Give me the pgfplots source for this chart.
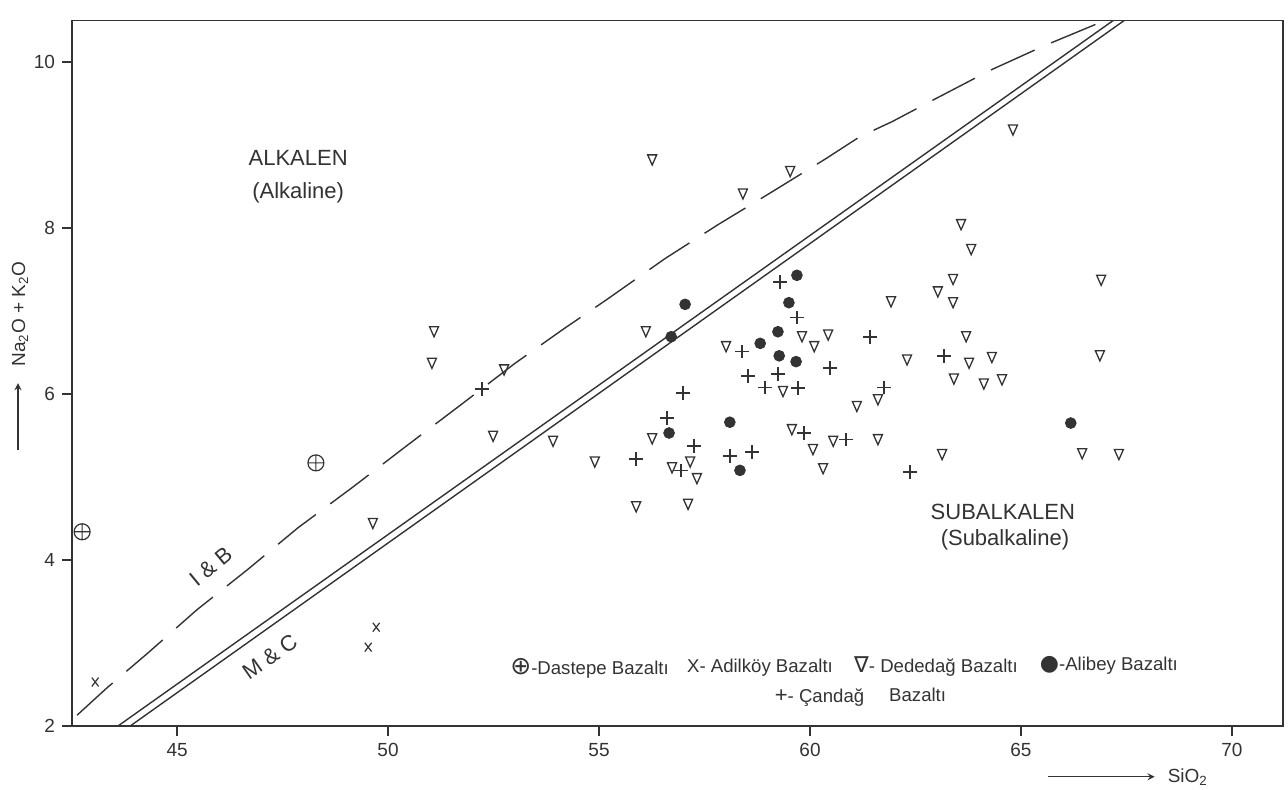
\documentclass[border=0pt]{standalone}
\usepackage{fontspec}
\setmainfont{Liberation Sans}
\newfontfamily\symfont{DejaVu Sans}
\usepackage{pgfplots}
\pgfplotsset{compat=1.18}
\definecolor{ink}{HTML}{333333}

\begin{document}
\begin{tikzpicture}
\begin{axis}[name=a, scale only axis, width=605.5pt, height=352.75pt,
  xmin=42.51, xmax=71.21, ymin=2, ymax=10.5,
  xtick={45,50,55,60,65,70}, ytick={2,4,6,8,10},
  tick align=outside, xtick pos=left, ytick pos=left,
  major tick length=5pt,
  axis line style={ink, line width=0.9pt},
  every tick/.style={ink, line width=0.9pt},
  tick label style={font=\fontsize{9.5}{10}\selectfont, text=ink},
  /pgf/number format/assume math mode=true,
  clip mode=individual,
]
% Irvine & Baragar boundary (dashed)
\addplot[ink, line width=0.7pt, dash pattern=on 24pt off 9pt] coordinates {
(42.63,2.13) (43.34,2.46) (44.31,2.88) (45.47,3.40) (46.66,3.88) (47.87,4.39)
(49.17,4.88) (50.40,5.36) (51.70,5.86) (53.01,6.37) (54.15,6.78) (55.19,7.14)
(56.56,7.63) (57.82,8.04) (59.05,8.42) (60.36,8.83) (61.18,9.10) (61.94,9.28)
(62.91,9.54) (64.27,9.90) (65.57,10.20) (67.04,10.51)};
% MacDonald & Katsura boundary (double line)
\addplot[ink, line width=0.7pt] coordinates {(43.60,2) (67.63,10.66)};
\addplot[ink, line width=0.7pt] coordinates {(43.89,2) (67.89,10.66)};
% Dastepe
\addplot[only marks, mark=oplus, mark size=4pt, ink, line width=0.6pt] coordinates {
(42.75,4.34) (48.29,5.17)};
% Adilkoy
\addplot[only marks, mark=x, mark size=2.4pt, ink, line width=0.6pt, mark options={yscale=1.3}] coordinates {
(43.06,2.53) (49.53,2.95) (49.72,3.19)};
% Dededag
\addplot[only marks, mark=triangle, mark size=2.6pt, ink, line width=0.65pt, mark options={rotate=180, yscale=1.3}] coordinates {
(51.09,6.77) (51.04,6.39) (52.75,6.31) (52.49,5.51) (53.91,5.45) (54.90,5.20)
(49.64,4.46) (55.88,4.66) (56.26,5.48) (56.73,5.13) (57.16,5.20) (57.32,5.00)
(57.11,4.69) (59.57,5.59) (60.07,5.35) (60.31,5.12) (60.55,5.45) (59.36,6.05)
(56.11,6.77) (58.01,6.59) (56.26,8.84) (58.41,8.43) (59.53,8.70) (59.81,6.71)
(60.10,6.59) (60.43,6.73) (61.92,7.13) (62.30,6.43) (63.03,7.25) (63.39,7.40)
(63.39,7.12) (63.70,6.71) (63.77,6.39) (63.41,6.20) (63.58,8.06) (63.82,7.76)
(64.31,6.46) (64.12,6.14) (64.55,6.19) (66.90,7.39) (66.87,6.48) (66.45,5.30)
(67.32,5.29) (64.81,9.20) (61.11,5.87) (61.61,5.95) (61.61,5.47) (63.13,5.29)};
% Candag
\addplot[only marks, mark=+, mark size=3.4pt, ink, line width=0.8pt] coordinates {
(59.29,7.35) (59.69,6.92) (58.39,6.51) (58.53,6.22) (59.24,6.24) (58.93,6.08)
(59.72,6.07) (56.99,6.01) (61.42,6.69) (60.47,6.31) (63.18,6.46) (61.75,6.08)
(56.61,5.71) (57.25,5.37) (55.88,5.22) (56.94,5.08) (58.10,5.25) (58.63,5.30)
(59.86,5.53) (60.85,5.45) (62.37,5.06) (52.23,6.06)};
% Alibey
\addplot[only marks, mark=*, mark size=2.7pt, ink, mark options={fill=ink, draw=ink}] coordinates {
(57.04,7.08) (56.71,6.69) (59.69,7.43) (59.50,7.10) (59.24,6.75) (58.82,6.61)
(59.27,6.46) (59.67,6.39) (56.66,5.53) (58.10,5.66) (58.34,5.08) (66.18,5.65)};

% region labels
\node[font=\fontsize{11}{12}\selectfont, text=ink] at (axis cs:47.87,8.84) {ALKALEN};
\node[font=\fontsize{11}{12}\selectfont, text=ink] at (axis cs:47.87,8.42) {(Alkaline)};
\node[font=\fontsize{11}{12}\selectfont, text=ink] at (axis cs:64.57,4.58) {SUBALKALEN};
\node[font=\fontsize{11}{12}\selectfont, text=ink] at (axis cs:64.62,4.24) {(Subalkaline)};
\node[font=\fontsize{11}{12}\selectfont, text=ink, rotate=39.5, inner sep=0pt] at (axis cs:45.80,3.92) {I \& B};
\node[font=\fontsize{11}{12}\selectfont, text=ink, rotate=35, inner sep=0pt] at (axis cs:47.20,2.83) {M \& C};

% legend
\node[font=\fontsize{9.3}{11}\selectfont, text=ink, anchor=west] at (axis cs:52.73,2.69) {{\symfont\fontsize{12.5}{12}\selectfont ⊕}-Dastepe Bazaltı};
\node[font=\fontsize{9.3}{11}\selectfont, text=ink, anchor=west] at (axis cs:56.92,2.70) {X- Adilköy Bazaltı};
\node[font=\fontsize{9.3}{11}\selectfont, text=ink, anchor=west] at (axis cs:60.88,2.72) {{\symfont\fontsize{11}{12}\selectfont ∇}- Dededağ Bazaltı};
\node[font=\fontsize{9.3}{11}\selectfont, text=ink, anchor=west] at (axis cs:65.28,2.73) {{\symfont\fontsize{11}{12}\selectfont ●}-Alibey Bazaltı};
\node[font=\fontsize{9.3}{11}\selectfont, text=ink, anchor=west] at (axis cs:59.00,2.34) {{\fontsize{11}{12}\selectfont +}- Çandağ};
\node[font=\fontsize{9.3}{11}\selectfont, text=ink, anchor=west] at (axis cs:61.71,2.37) {Bazaltı};

% axis titles with arrows
\node[font=\fontsize{9.5}{11}\selectfont, text=ink, rotate=90] at (axis description cs:-0.043,0.584) {Na\textsubscript{2}O + K\textsubscript{2}O};
\draw[ink, line width=0.6pt, -stealth] (axis description cs:-0.0446,0.391) -- (axis description cs:-0.0446,0.486);
\node[font=\fontsize{9.5}{11}\selectfont, text=ink, anchor=west] at (axis description cs:0.899,-0.072) {SiO\textsubscript{2}};
\draw[ink, line width=0.6pt, -stealth] (axis description cs:0.806,-0.072) -- (axis description cs:0.894,-0.072);
\end{axis}
\pgfresetboundingbox
\path ([shift={(-36pt,-32pt)}]a.south west) rectangle ([shift={(2.5pt,10.25pt)}]a.north east);
\end{tikzpicture}
\end{document}
